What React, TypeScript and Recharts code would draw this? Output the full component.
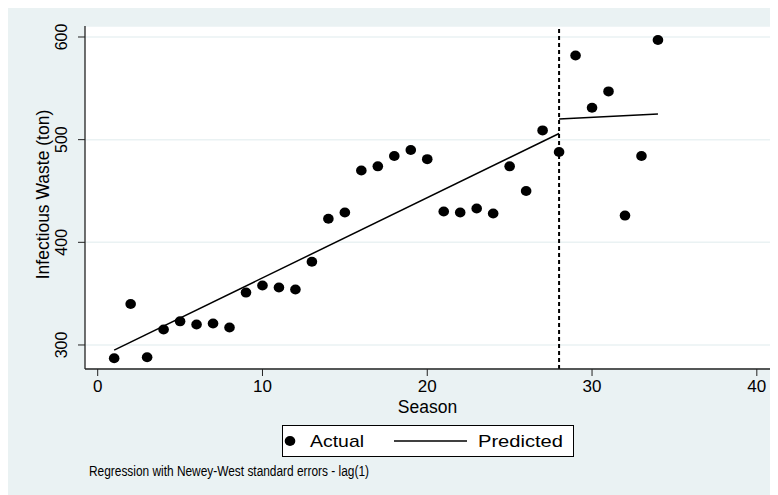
import React from 'react';
import { ScatterChart, Scatter, XAxis, YAxis, CartesianGrid, ReferenceLine, Label } from 'recharts';

const seasons = [1, 2, 3, 4, 5, 6, 7, 8, 9, 10, 11, 12, 13, 14, 15, 16, 17, 18, 19, 20, 21, 22, 23, 24, 25, 26, 27, 28, 29, 30, 31, 32, 33, 34];
const actualWaste = [287, 340, 288, 315, 323, 320, 321, 317, 351, 358, 356, 354, 381, 423, 429, 470, 474, 484, 490, 481, 430, 429, 433, 428, 474, 450, 509, 488, 582, 531, 547, 426, 484, 597];

const predictedBeforeSeasons = [1, 28];
const predictedBeforeValues = [295, 506];
const predictedAfterSeasons = [28, 34];
const predictedAfterValues = [520, 525];

const breakSeason = 28;
const xTicks = [0, 10, 20, 30, 40];
const yTicks = [300, 400, 500, 600];

const actualData = seasons.map((s, i) => ({ x: s, y: actualWaste[i] }));
const predBefore = predictedBeforeSeasons.map((s, i) => ({ x: s, y: predictedBeforeValues[i] }));
const predAfter = predictedAfterSeasons.map((s, i) => ({ x: s, y: predictedAfterValues[i] }));

const FONT = '"Liberation Sans", Arial, Helvetica, sans-serif';
const BG = '#EAF2F3';

const XTick = (props: any) => {
  const { x, payload } = props;
  return (
    <text x={x} y={384} textAnchor="middle" fontFamily={FONT} fontSize={17} fill="#000">
      {payload.value}
    </text>
  );
};

const YTick = (props: any) => {
  const { y, payload } = props;
  return (
    <text
      transform={`translate(59, ${y}) rotate(-90)`}
      textAnchor="middle"
      fontFamily={FONT}
      fontSize={16}
      fill="#000"
    >
      {payload.value}
    </text>
  );
};

const Dot = (props: any) => {
  const { cx, cy } = props;
  return <ellipse cx={cx} cy={cy} rx={5.3} ry={5} fill="#000" />;
};

const NoDot = () => <g />;

const YLabel = (props: any) => {
  const vb = props.viewBox || {};
  const cy = (vb.y || 0) + (vb.height || 0) / 2 - 3;
  return (
    <text
      transform={`translate(41, ${cy}) rotate(-90)`}
      textAnchor="middle"
      fontFamily={FONT}
      fontSize={17.5}
      fill="#000"
    >
      Infectious Waste (ton)
    </text>
  );
};

const XLabel = (props: any) => {
  const vb = props.viewBox || {};
  const cx = (vb.x || 0) + (vb.width || 0) / 2;
  return (
    <text x={cx} y={405} textAnchor="middle" fontFamily={FONT} fontSize={17.5} fill="#000">
      Season
    </text>
  );
};

export default function App() {
  return (
    <div style={{ position: 'relative', width: 770, height: 487, background: BG }}>
      <ScatterChart width={770} height={487} margin={{ top: 18, right: 8, bottom: 0, left: 0 }}>
        <CartesianGrid vertical={false} horizontal={true} stroke={BG} strokeWidth={1.5} fill="#ffffff" fillOpacity={1} />
        <XAxis
          type="number"
          dataKey="x"
          domain={[-0.77, 40.8]}
          ticks={xTicks}
          interval={0}
          allowDataOverflow
          height={126}
          tickSize={7}
          tickLine={{ stroke: '#222', strokeWidth: 1 }}
          axisLine={{ stroke: '#222', strokeWidth: 1.3 }}
          tick={<XTick />}
        >
          <Label content={<XLabel />} />
        </XAxis>
        <YAxis
          type="number"
          dataKey="y"
          domain={[276.6, 610.7]}
          ticks={yTicks}
          interval={0}
          allowDataOverflow
          width={77}
          tickSize={7}
          tickLine={{ stroke: '#222', strokeWidth: 1 }}
          axisLine={{ stroke: '#222', strokeWidth: 1.3 }}
          tick={<YTick />}
        >
          <Label content={<YLabel />} />
        </YAxis>
        <ReferenceLine x={breakSeason} stroke="#000" strokeWidth={2} strokeDasharray="4 3" />
        <Scatter data={predBefore} line={{ stroke: '#000', strokeWidth: 1.5 }} shape={<NoDot />} isAnimationActive={false} />
        <Scatter data={predAfter} line={{ stroke: '#000', strokeWidth: 1.5 }} shape={<NoDot />} isAnimationActive={false} />
        <Scatter data={actualData} fill="#000" shape={<Dot />} isAnimationActive={false} />
      </ScatterChart>
      <svg
        width={770}
        height={487}
        style={{ position: 'absolute', left: 0, top: 0, pointerEvents: 'none' }}
      >
        <rect x={274.5} y={417.5} width={291} height={31} fill="#fff" stroke="#000" strokeWidth={1} />
        <ellipse cx={282} cy={433} rx={5.3} ry={5} fill="#000" />
        <text x={302} y={439} fontFamily={FONT} fontSize={17} textLength={54} lengthAdjust="spacingAndGlyphs" fill="#000">
          Actual
        </text>
        <line x1={386} y1={433} x2={459} y2={433} stroke="#000" strokeWidth={1.5} />
        <text x={470} y={439} fontFamily={FONT} fontSize={17} textLength={85} lengthAdjust="spacingAndGlyphs" fill="#000">
          Predicted
        </text>
        <text x={81} y={468} fontFamily={FONT} fontSize={14} textLength={280} lengthAdjust="spacingAndGlyphs" fill="#000">
          Regression with Newey-West standard errors - lag(1)
        </text>
      </svg>
    </div>
  );
}
